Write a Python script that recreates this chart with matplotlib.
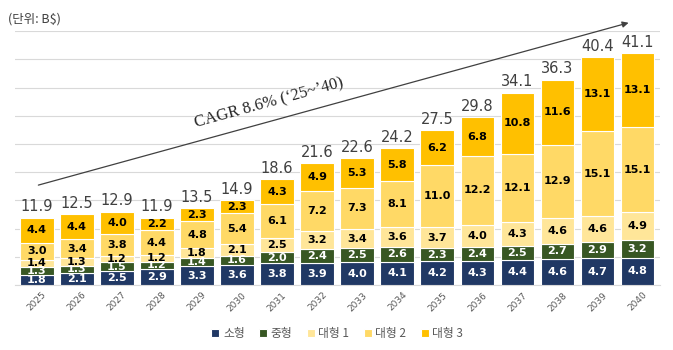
import numpy as np
import matplotlib.pyplot as plt

plt.rcParams['font.family'] = ['Noto Sans CJK KR', 'DejaVu Sans']

years = [str(y) for y in range(2025, 2041)]
small = [1.8, 2.1, 2.5, 2.9, 3.3, 3.6, 3.8, 3.9, 4.0, 4.1, 4.2, 4.3, 4.4, 4.6, 4.7, 4.8]
mid = [1.3, 1.3, 1.5, 1.2, 1.4, 1.6, 2.0, 2.4, 2.5, 2.6, 2.3, 2.4, 2.5, 2.7, 2.9, 3.2]
large1 = [1.4, 1.3, 1.2, 1.2, 1.8, 2.1, 2.5, 3.2, 3.4, 3.6, 3.7, 4.0, 4.3, 4.6, 4.6, 4.9]
large2 = [3.0, 3.4, 3.8, 4.4, 4.8, 5.4, 6.1, 7.2, 7.3, 8.1, 11.0, 12.2, 12.1, 12.9, 15.1, 15.1]
large3 = [4.4, 4.4, 4.0, 2.2, 2.3, 2.3, 4.3, 4.9, 5.3, 5.8, 6.2, 6.8, 10.8, 11.6, 13.1, 13.1]
totals = [11.9, 12.5, 12.9, 11.9, 13.5, 14.9, 18.6, 21.6, 22.6, 24.2, 27.5, 29.8, 34.1, 36.3, 40.4, 41.1]

series = [small, mid, large1, large2, large3]
names = ['소형', '중형', '대형 1', '대형 2', '대형 3']
colors = ['#203864', '#385723', '#FFE699', '#FFD966', '#FFC000']
txtcol = ['white', 'white', 'black', 'black', 'black']

fig = plt.figure(figsize=(6.73, 3.5), dpi=100)
ax = fig.add_axes([0.022, 0.186, 0.958, 0.725])

x = np.arange(len(years))
bottom = np.zeros(len(years))
for vals, nm, c, tc in zip(series, names, colors, txtcol):
    v = np.array(vals)
    ax.bar(x, v, 0.84, bottom=bottom, color=c, edgecolor='white', linewidth=0.8,
           label=nm, zorder=3)
    for xi, b, vi in zip(x, bottom, v):
        ax.text(xi, b + vi / 2, f'{vi:.1f}', ha='center', va='center',
                fontsize=8, fontweight='bold', color=tc, family='DejaVu Sans', zorder=4)
    bottom += v

for xi, t, b in zip(x, totals, bottom):
    ax.text(xi, b + 0.6, f'{t:.1f}', ha='center', va='bottom', fontsize=10.5,
            color='#404040', family='DejaVu Sans')

ax.set_ylim(0, 45)
ax.set_xlim(-0.55, len(years) - 0.45)
ax.set_yticks(np.arange(0, 46, 5))
ax.yaxis.grid(True, color='#d9d9d9', linewidth=0.8, zorder=0)
ax.tick_params(axis='y', left=False, labelleft=False)
ax.tick_params(axis='x', length=0, pad=4)
ax.set_xticks(x)
ax.set_xticklabels(years, rotation=45, fontsize=6.5, color='#595959', family='DejaVu Sans')
for s in ['top', 'right', 'left']:
    ax.spines[s].set_visible(False)
ax.spines['bottom'].set_color('#d9d9d9')

fig.text(0.012, 0.935, '(단위: B$)', fontsize=9, color='#404040', family='Noto Sans CJK KR')

ax.annotate('', xy=(0.938, 0.937), xytext=(0.053, 0.469),
            xycoords='figure fraction', textcoords='figure fraction',
            arrowprops=dict(arrowstyle='-|>', color='#404040', lw=0.9, mutation_scale=9))
fig.text(0.40, 0.705, 'CAGR 8.6% (\u201825~\u201940)', fontsize=12, rotation=15.4,
         ha='center', va='center', family='Liberation Serif', color='#262626')

ax.legend(loc='upper center', bbox_to_anchor=(0.5, -0.125), ncol=5, frameon=False,
          fontsize=8.5, handlelength=0.7, handleheight=0.7, handletextpad=0.3,
          columnspacing=1.2, labelcolor='#595959')

fig.savefig('out.png', dpi=100)
